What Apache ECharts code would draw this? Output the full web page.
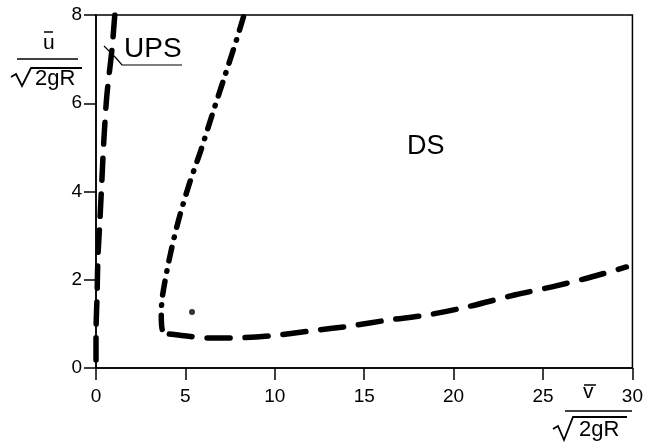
<!DOCTYPE html>
<html>
<head>
<meta charset="utf-8">
<script src="https://cdn.jsdelivr.net/npm/echarts@6/dist/echarts.min.js"></script>
<style>
html,body{margin:0;padding:0;background:#fff;}
#chart{width:646px;height:446px;}
</style>
</head>
<body>
<div id="chart"></div>
<script>
// Tick values
var xTicks = [0, 5, 10, 15, 20, 25, 30];
var yTicks = [0, 2, 4, 6, 8];

// UPS boundary (dashed, near v = 0)
var upsV = [0, 0, 0.06, 0.11, 0.22, 0.33, 0.44, 0.61, 0.89, 1.05];
var upsU = [0.18, 0.75, 1.66, 2.52, 3.36, 4.26, 5.17, 6.19, 7.21, 8.0];

// DS boundary, upper branch (dash-dot)
var dsUpV = [8.25, 7.86, 7.19, 6.53, 5.87, 5.20, 4.59, 4.10, 3.71, 3.65, 3.71, 4.10];
var dsUpU = [7.96, 7.44, 6.60, 5.78, 4.94, 4.15, 3.31, 2.47, 1.61, 1.20, 0.86, 0.77];

// DS boundary, lower branch (dashed)
var dsLowV = [4.10, 4.93, 6.2, 7.5, 9.8, 12.0, 14.2, 16.4, 18.5, 20.7, 23.46, 25.5, 27.5, 29.66];
var dsLowU = [0.77, 0.73, 0.68, 0.68, 0.73, 0.84, 0.95, 1.09, 1.20, 1.38, 1.66, 1.84, 2.04, 2.29];

// isolated point
var ptV = [5.37];
var ptU = [1.27];

function zip(a, b) { return a.map(function (v, i) { return [v, b[i]]; }); }

var chart = echarts.init(document.getElementById('chart'), null, {renderer: 'canvas'});
var font = 'Liberation Sans, Arial, Helvetica, sans-serif';
var lineStyleCommon = {color: '#000', width: 5.5, cap: 'round', join: 'round'};

chart.setOption({
  animation: false,
  backgroundColor: '#fff',
  grid: {left: 96, right: 8, top: 15, bottom: 78, show: true, borderColor: '#000', borderWidth: 1.5, backgroundColor: 'transparent'},
  xAxis: {
    type: 'value', min: xTicks[0], max: xTicks[xTicks.length - 1], interval: 5,
    axisLine: {lineStyle: {color: '#000', width: 1.5}},
    axisTick: {inside: false, length: 12, lineStyle: {color: '#000', width: 1.5}},
    axisLabel: {color: '#000', fontSize: 19, fontFamily: font, margin: 19},
    splitLine: {show: false}
  },
  yAxis: {
    type: 'value', min: yTicks[0], max: yTicks[yTicks.length - 1], interval: 2,
    axisLine: {lineStyle: {color: '#000', width: 1.5}},
    axisTick: {inside: false, length: 12, lineStyle: {color: '#000', width: 1.5}},
    axisLabel: {color: '#000', fontSize: 19, fontFamily: font, margin: 14},
    splitLine: {show: false}
  },
  series: [
    {type: 'line', data: zip(upsV, upsU), showSymbol: false, smooth: 0.3,
     lineStyle: Object.assign({}, lineStyleCommon, {type: [22, 14]})},
    {type: 'line', data: zip(dsUpV, dsUpU), showSymbol: false, smooth: 0.3,
     lineStyle: Object.assign({}, lineStyleCommon, {type: [14, 10, 0.5, 10]})},
    {type: 'line', data: zip(dsLowV, dsLowU), showSymbol: false, smooth: 0.3,
     lineStyle: Object.assign({}, lineStyleCommon, {type: [23, 15]})},
    {type: 'scatter', data: zip(ptV, ptU), symbol: 'circle', symbolSize: 6, itemStyle: {color: '#000'}}
  ],
  graphic: [
    // y-axis title: u-bar over sqrt(2gR)
    {type: 'text', left: 43, top: 33, style: {text: 'u', font: '21px ' + font, fill: '#000'}},
    {type: 'line', shape: {x1: 44, y1: 32, x2: 53, y2: 32}, style: {stroke: '#000', lineWidth: 1.5}},
    {type: 'line', shape: {x1: 17, y1: 59, x2: 78, y2: 59}, style: {stroke: '#000', lineWidth: 1.5}},
    {type: 'polyline', shape: {points: [[11, 77], [16, 74], [22, 86], [31, 68], [82, 68]]}, style: {stroke: '#000', lineWidth: 1.8, fill: null}},
    {type: 'text', left: 35, top: 68, style: {text: '2gR', font: '22px ' + font, fill: '#000'}},
    // x-axis title: v-bar over sqrt(2gR)
    {type: 'text', left: 583, top: 382, style: {text: 'v', font: '21px ' + font, fill: '#000'}},
    {type: 'line', shape: {x1: 584, y1: 385, x2: 596, y2: 385}, style: {stroke: '#000', lineWidth: 1.5}},
    {type: 'line', shape: {x1: 565, y1: 411, x2: 632, y2: 411}, style: {stroke: '#000', lineWidth: 1.5}},
    {type: 'polyline', shape: {points: [[553, 429], [558, 426], [564, 440], [573, 417], [627, 417]]}, style: {stroke: '#000', lineWidth: 1.8, fill: null}},
    {type: 'text', left: 579, top: 419, style: {text: '2gR', font: '22px ' + font, fill: '#000'}},
    // region labels
    {type: 'text', left: 124, top: 35, style: {text: 'UPS', font: '28px ' + font, fill: '#000'}},
    {type: 'polyline', shape: {points: [[104, 46], [116, 58], [122, 65], [182, 65]]}, style: {stroke: '#000', lineWidth: 1.2, fill: null}},
    {type: 'text', left: 407, top: 133, style: {text: 'DS', font: '27px ' + font, fill: '#000'}}
  ]
});
</script>
</body>
</html>
